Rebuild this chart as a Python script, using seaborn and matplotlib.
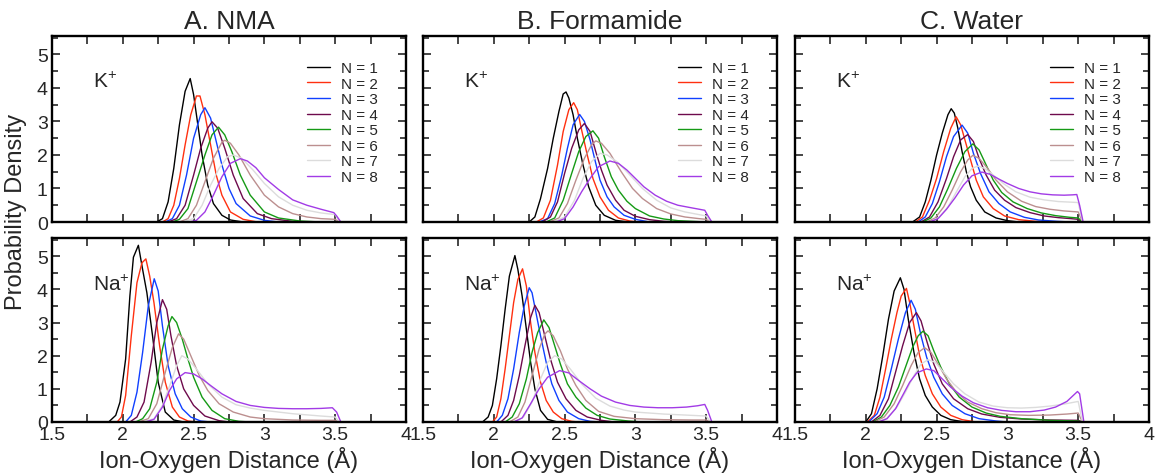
import matplotlib
matplotlib.use("Agg")
import matplotlib.pyplot as plt
import pandas as pd
import seaborn as sns
from matplotlib.ticker import MultipleLocator, FuncFormatter
from matplotlib.lines import Line2D

# ---- data: each curve is a list of (distance, density) points ----
titles = ["A. NMA", "B. Formamide", "C. Water"]
ion_labels = [r"K$^{\mathregular{+}}$", r"Na$^{\mathregular{+}}$"]
n_labels = [f"N = {i}" for i in range(1, 9)]
colors = ["#000000", "#ff3010", "#1040ff", "#6e0a4c",
          "#159a15", "#bc8f8f", "#dcdcdc", "#a23be6"]

nma_k = [
    [(2.24, 0), (2.28, 0.1), (2.32, 0.6), (2.36, 1.6), (2.40, 2.9), (2.44, 3.9), (2.476, 4.28),
     (2.50, 3.8), (2.53, 2.9), (2.56, 2.0), (2.60, 1.1), (2.64, 0.55), (2.70, 0.2), (2.76, 0.06), (2.85, 0)],
    [(2.28, 0), (2.32, 0.1), (2.36, 0.5), (2.40, 1.3), (2.44, 2.3), (2.48, 3.2), (2.52, 3.76), (2.545, 3.76),
     (2.58, 3.2), (2.62, 2.3), (2.66, 1.4), (2.70, 0.8), (2.76, 0.3), (2.85, 0.08), (2.95, 0)],
    [(2.30, 0), (2.35, 0.1), (2.40, 0.5), (2.45, 1.4), (2.50, 2.5), (2.55, 3.2), (2.58, 3.41), (2.62, 3.1),
     (2.66, 2.4), (2.70, 1.7), (2.75, 1.0), (2.80, 0.55), (2.90, 0.18), (3.0, 0.05), (3.1, 0)],
    [(2.32, 0), (2.38, 0.1), (2.44, 0.5), (2.50, 1.4), (2.55, 2.2), (2.60, 2.8), (2.63, 2.99), (2.67, 2.8),
     (2.72, 2.2), (2.78, 1.4), (2.85, 0.7), (2.95, 0.25), (3.05, 0.1), (3.2, 0.02), (3.3, 0)],
    [(2.35, 0), (2.40, 0.08), (2.46, 0.4), (2.52, 1.2), (2.58, 2.0), (2.63, 2.6), (2.676, 2.83), (2.72, 2.6),
     (2.77, 2.1), (2.83, 1.4), (2.90, 0.8), (3.0, 0.3), (3.1, 0.12), (3.25, 0.03), (3.4, 0)],
    [(2.40, 0), (2.46, 0.1), (2.52, 0.5), (2.58, 1.2), (2.64, 1.9), (2.70, 2.38), (2.72, 2.44), (2.76, 2.35),
     (2.82, 2.0), (2.90, 1.4), (3.0, 0.8), (3.1, 0.45), (3.2, 0.25), (3.3, 0.15), (3.4, 0.1), (3.5, 0.08), (3.53, 0)],
    [(2.42, 0), (2.50, 0.1), (2.56, 0.5), (2.62, 1.1), (2.68, 1.6), (2.74, 1.95), (2.78, 2.0), (2.84, 1.9),
     (2.92, 1.55), (3.0, 1.15), (3.1, 0.75), (3.2, 0.5), (3.3, 0.35), (3.4, 0.27), (3.5, 0.22), (3.53, 0)],
    [(2.47, 0), (2.52, 0.05), (2.58, 0.3), (2.64, 0.8), (2.70, 1.35), (2.76, 1.75), (2.83, 1.89), (2.88, 1.82),
     (2.94, 1.62), (3.0, 1.32), (3.1, 0.97), (3.2, 0.66), (3.3, 0.5), (3.4, 0.38), (3.49, 0.28), (3.51, 0.18), (3.54, 0)],
]

nma_na = [
    [(1.90, 0), (1.95, 0.2), (1.98, 0.6), (2.02, 1.9), (2.05, 3.8), (2.075, 4.97), (2.11, 5.33), (2.14, 4.6),
     (2.17, 3.9), (2.21, 2.6), (2.25, 1.2), (2.30, 0.3), (2.36, 0.06), (2.43, 0)],
    [(1.96, 0), (1.99, 0.15), (2.02, 0.8), (2.06, 2.6), (2.10, 4.2), (2.135, 4.8), (2.163, 4.92), (2.19, 4.4),
     (2.22, 3.6), (2.26, 2.3), (2.30, 1.2), (2.35, 0.45), (2.40, 0.15), (2.46, 0.03), (2.52, 0)],
    [(2.02, 0), (2.06, 0.2), (2.10, 0.9), (2.14, 2.1), (2.18, 3.5), (2.222, 4.32), (2.25, 3.95), (2.28, 2.9),
     (2.32, 1.7), (2.37, 0.85), (2.42, 0.4), (2.48, 0.15), (2.55, 0.03), (2.62, 0)],
    [(2.05, 0), (2.10, 0.15), (2.15, 0.6), (2.20, 1.8), (2.24, 3.0), (2.28, 3.69), (2.31, 3.4), (2.34, 2.6),
     (2.38, 1.7), (2.43, 1.0), (2.50, 0.5), (2.58, 0.18), (2.68, 0.04), (2.75, 0)],
    [(2.09, 0), (2.14, 0.1), (2.19, 0.4), (2.24, 1.2), (2.28, 2.2), (2.32, 2.9), (2.347, 3.18), (2.38, 3.0),
     (2.42, 2.5), (2.46, 1.9), (2.50, 1.35), (2.56, 0.75), (2.63, 0.35), (2.72, 0.1), (2.82, 0.02), (2.9, 0)],
    [(2.11, 0), (2.18, 0.1), (2.24, 0.55), (2.30, 1.5), (2.35, 2.25), (2.394, 2.66), (2.43, 2.5), (2.48, 2.0),
     (2.54, 1.4), (2.60, 0.95), (2.68, 0.55), (2.78, 0.3), (2.9, 0.15), (3.0, 0.1), (3.2, 0.06), (3.4, 0.05),
     (3.5, 0.05), (3.53, 0)],
    [(2.14, 0), (2.22, 0.1), (2.28, 0.5), (2.34, 1.2), (2.38, 1.7), (2.417, 2.0), (2.46, 1.9), (2.52, 1.6),
     (2.60, 1.15), (2.70, 0.75), (2.80, 0.52), (2.9, 0.42), (3.0, 0.35), (3.2, 0.25), (3.4, 0.18), (3.5, 0.15), (3.53, 0)],
    [(2.16, 0), (2.22, 0.08), (2.28, 0.45), (2.33, 0.95), (2.38, 1.3), (2.44, 1.49), (2.50, 1.45), (2.56, 1.3),
     (2.62, 1.1), (2.70, 0.85), (2.80, 0.62), (2.9, 0.5), (3.0, 0.44), (3.1, 0.41), (3.2, 0.4), (3.3, 0.4),
     (3.4, 0.41), (3.48, 0.43), (3.51, 0.3), (3.54, 0)],
]

form_k = [
    [(2.25, 0), (2.29, 0.15), (2.33, 0.7), (2.38, 1.6), (2.42, 2.5), (2.46, 3.3), (2.49, 3.82), (2.51, 3.88),
     (2.53, 3.7), (2.56, 3.2), (2.59, 2.5), (2.63, 1.7), (2.67, 1.05), (2.72, 0.5), (2.78, 0.2), (2.86, 0.05), (2.95, 0)],
    [(2.30, 0), (2.35, 0.12), (2.40, 0.65), (2.45, 1.7), (2.49, 2.7), (2.53, 3.35), (2.564, 3.56), (2.59, 3.35),
     (2.62, 2.75), (2.66, 2.0), (2.70, 1.3), (2.75, 0.75), (2.81, 0.35), (2.88, 0.12), (2.96, 0.03), (3.02, 0)],
    [(2.32, 0), (2.38, 0.1), (2.43, 0.55), (2.48, 1.4), (2.52, 2.2), (2.56, 2.9), (2.606, 3.21), (2.64, 3.0),
     (2.68, 2.45), (2.72, 1.75), (2.75, 1.25), (2.80, 0.75), (2.85, 0.45), (2.92, 0.2), (3.0, 0.08), (3.1, 0)],
    [(2.34, 0), (2.40, 0.15), (2.45, 0.6), (2.50, 1.45), (2.55, 2.2), (2.60, 2.75), (2.64, 2.94), (2.68, 2.7),
     (2.72, 2.1), (2.76, 1.55), (2.80, 1.1), (2.86, 0.65), (2.92, 0.35), (3.0, 0.17), (3.1, 0.07), (3.2, 0.02), (3.3, 0)],
    [(2.37, 0), (2.43, 0.12), (2.49, 0.65), (2.55, 1.45), (2.60, 2.1), (2.65, 2.55), (2.70, 2.72), (2.74, 2.5),
     (2.78, 1.95), (2.83, 1.35), (2.88, 0.95), (2.94, 0.62), (3.0, 0.4), (3.1, 0.18), (3.2, 0.09), (3.3, 0.04),
     (3.45, 0.01), (3.5, 0)],
    [(2.39, 0), (2.46, 0.12), (2.52, 0.55), (2.58, 1.25), (2.64, 1.9), (2.69, 2.3), (2.72, 2.42), (2.76, 2.35),
     (2.82, 2.05), (2.90, 1.5), (2.98, 1.0), (3.05, 0.7), (3.15, 0.4), (3.25, 0.24), (3.35, 0.15), (3.45, 0.1),
     (3.5, 0.08), (3.53, 0)],
    [(2.42, 0), (2.50, 0.15), (2.57, 0.65), (2.63, 1.3), (2.69, 1.8), (2.75, 2.05), (2.80, 2.0), (2.87, 1.8),
     (2.95, 1.45), (3.05, 1.0), (3.15, 0.65), (3.25, 0.42), (3.35, 0.3), (3.45, 0.22), (3.5, 0.18), (3.53, 0)],
    [(2.44, 0), (2.50, 0.1), (2.56, 0.45), (2.62, 0.9), (2.68, 1.3), (2.74, 1.65), (2.82, 1.82), (2.88, 1.75),
     (2.94, 1.55), (3.0, 1.3), (3.06, 1.05), (3.14, 0.8), (3.22, 0.62), (3.30, 0.5), (3.40, 0.42), (3.49, 0.35),
     (3.51, 0.2), (3.54, 0)],
]

form_na = [
    [(1.92, 0), (1.96, 0.15), (1.99, 0.5), (2.02, 1.3), (2.05, 2.3), (2.08, 3.4), (2.11, 4.4), (2.149, 5.02),
     (2.17, 4.6), (2.20, 3.8), (2.23, 2.8), (2.26, 1.8), (2.29, 1.0), (2.33, 0.35), (2.38, 0.08), (2.45, 0)],
    [(1.99, 0), (2.02, 0.15), (2.05, 0.7), (2.08, 1.6), (2.11, 2.6), (2.14, 3.6), (2.17, 4.3), (2.203, 4.62),
     (2.23, 4.1), (2.26, 3.0), (2.29, 2.1), (2.33, 1.2), (2.37, 0.65), (2.42, 0.3), (2.48, 0.1), (2.55, 0.02), (2.6, 0)],
    [(2.02, 0), (2.06, 0.2), (2.10, 0.7), (2.14, 1.6), (2.18, 2.7), (2.215, 3.5), (2.25, 4.05), (2.27, 3.9),
     (2.30, 3.25), (2.33, 2.6), (2.37, 1.8), (2.41, 1.15), (2.46, 0.65), (2.52, 0.3), (2.60, 0.1), (2.68, 0.02), (2.75, 0)],
    [(2.05, 0), (2.10, 0.2), (2.14, 0.65), (2.18, 1.4), (2.22, 2.3), (2.26, 3.15), (2.29, 3.52), (2.32, 3.3),
     (2.36, 2.6), (2.40, 1.9), (2.45, 1.2), (2.51, 0.7), (2.58, 0.35), (2.66, 0.15), (2.76, 0.05), (2.85, 0)],
    [(2.08, 0), (2.13, 0.15), (2.18, 0.55), (2.23, 1.3), (2.27, 2.1), (2.31, 2.7), (2.353, 3.08), (2.39, 2.85),
     (2.43, 2.3), (2.47, 1.75), (2.52, 1.15), (2.58, 0.75), (2.65, 0.42), (2.73, 0.2), (2.82, 0.09), (2.95, 0.03), (3.05, 0)],
    [(2.11, 0), (2.17, 0.15), (2.22, 0.6), (2.27, 1.4), (2.32, 2.2), (2.36, 2.65), (2.383, 2.75), (2.42, 2.6),
     (2.47, 2.15), (2.52, 1.6), (2.58, 1.1), (2.65, 0.65), (2.74, 0.32), (2.85, 0.17), (3.0, 0.1), (3.2, 0.07),
     (3.4, 0.06), (3.5, 0.06), (3.53, 0)],
    [(2.14, 0), (2.21, 0.15), (2.27, 0.6), (2.33, 1.3), (2.38, 1.8), (2.43, 2.0), (2.48, 1.9), (2.54, 1.6),
     (2.62, 1.15), (2.72, 0.72), (2.82, 0.48), (2.92, 0.36), (3.0, 0.3), (3.2, 0.24), (3.4, 0.2), (3.5, 0.18), (3.53, 0)],
    [(2.14, 0), (2.20, 0.12), (2.26, 0.55), (2.32, 1.0), (2.38, 1.35), (2.465, 1.55), (2.53, 1.48), (2.60, 1.25),
     (2.68, 1.0), (2.76, 0.78), (2.86, 0.6), (2.96, 0.5), (3.06, 0.45), (3.16, 0.43), (3.26, 0.43), (3.36, 0.45),
     (3.44, 0.49), (3.49, 0.53), (3.51, 0.35), (3.54, 0)],
]

water_k = [
    [(2.33, 0), (2.38, 0.15), (2.42, 0.6), (2.46, 1.25), (2.50, 2.0), (2.54, 2.65), (2.58, 3.2), (2.603, 3.38),
     (2.625, 3.25), (2.65, 2.8), (2.68, 2.1), (2.71, 1.5), (2.74, 1.05), (2.78, 0.65), (2.84, 0.3), (2.92, 0.12),
     (3.0, 0.04), (3.08, 0)],
    [(2.35, 0), (2.40, 0.15), (2.45, 0.65), (2.50, 1.3), (2.55, 2.1), (2.60, 2.8), (2.638, 3.14), (2.67, 2.9),
     (2.70, 2.45), (2.74, 1.85), (2.78, 1.25), (2.83, 0.75), (2.90, 0.4), (2.98, 0.18), (3.08, 0.07), (3.2, 0.02), (3.28, 0)],
    [(2.37, 0), (2.42, 0.15), (2.47, 0.55), (2.52, 1.2), (2.57, 1.95), (2.62, 2.55), (2.68, 2.89), (2.72, 2.65),
     (2.76, 2.05), (2.81, 1.45), (2.87, 0.9), (2.94, 0.55), (3.02, 0.3), (3.12, 0.14), (3.22, 0.06), (3.35, 0.02), (3.45, 0)],
    [(2.39, 0), (2.45, 0.15), (2.51, 0.6), (2.57, 1.3), (2.62, 1.95), (2.67, 2.45), (2.72, 2.61), (2.76, 2.4),
     (2.80, 1.9), (2.85, 1.4), (2.91, 0.95), (2.98, 0.65), (3.06, 0.43), (3.16, 0.28), (3.26, 0.18), (3.36, 0.13),
     (3.45, 0.1), (3.5, 0.08), (3.53, 0)],
    [(2.40, 0), (2.46, 0.12), (2.52, 0.45), (2.58, 1.0), (2.64, 1.6), (2.70, 2.1), (2.756, 2.33), (2.80, 2.15),
     (2.85, 1.7), (2.90, 1.25), (2.96, 0.88), (3.04, 0.6), (3.14, 0.4), (3.24, 0.27), (3.34, 0.19), (3.44, 0.14),
     (3.5, 0.12), (3.53, 0)],
    [(2.43, 0), (2.49, 0.12), (2.55, 0.45), (2.61, 0.95), (2.67, 1.5), (2.72, 1.85), (2.756, 1.99), (2.80, 1.9),
     (2.86, 1.6), (2.92, 1.25), (3.0, 0.9), (3.1, 0.62), (3.2, 0.46), (3.3, 0.38), (3.4, 0.33), (3.5, 0.3), (3.53, 0)],
    [(2.45, 0), (2.52, 0.15), (2.58, 0.45), (2.64, 0.9), (2.70, 1.35), (2.75, 1.6), (2.79, 1.67), (2.84, 1.6),
     (2.90, 1.4), (2.98, 1.12), (3.06, 0.9), (3.16, 0.74), (3.26, 0.66), (3.36, 0.61), (3.46, 0.59), (3.5, 0.58), (3.53, 0)],
    [(2.45, 0), (2.51, 0.1), (2.57, 0.38), (2.63, 0.72), (2.69, 1.1), (2.75, 1.38), (2.82, 1.49), (2.88, 1.42),
     (2.94, 1.28), (3.0, 1.15), (3.08, 1.0), (3.16, 0.9), (3.24, 0.84), (3.32, 0.81), (3.40, 0.8), (3.46, 0.81),
     (3.49, 0.82), (3.51, 0.5), (3.535, 0)],
]

water_na = [
    [(2.0, 0), (2.04, 0.25), (2.08, 1.0), (2.12, 2.0), (2.16, 3.1), (2.20, 3.95), (2.244, 4.35), (2.27, 4.0),
     (2.30, 3.1), (2.34, 2.1), (2.38, 1.3), (2.42, 0.8), (2.47, 0.45), (2.53, 0.2), (2.60, 0.07), (2.7, 0)],
    [(2.01, 0), (2.06, 0.2), (2.10, 0.75), (2.14, 1.6), (2.18, 2.5), (2.22, 3.3), (2.25, 3.8), (2.287, 4.03),
     (2.31, 3.6), (2.34, 2.9), (2.38, 2.0), (2.42, 1.4), (2.47, 0.85), (2.53, 0.45), (2.60, 0.2), (2.68, 0.07), (2.78, 0)],
    [(2.02, 0), (2.08, 0.25), (2.13, 0.75), (2.18, 1.6), (2.23, 2.5), (2.28, 3.3), (2.32, 3.67), (2.35, 3.4),
     (2.39, 2.6), (2.43, 1.95), (2.48, 1.35), (2.54, 0.85), (2.61, 0.5), (2.70, 0.25), (2.80, 0.1), (2.92, 0.03), (3.0, 0)],
    [(2.04, 0), (2.10, 0.2), (2.16, 0.7), (2.21, 1.5), (2.26, 2.3), (2.31, 3.0), (2.357, 3.3), (2.39, 3.05),
     (2.43, 2.45), (2.48, 1.75), (2.54, 1.15), (2.62, 0.7), (2.72, 0.4), (2.82, 0.24), (2.95, 0.14), (3.1, 0.09),
     (3.3, 0.06), (3.5, 0.05), (3.53, 0)],
    [(2.05, 0), (2.11, 0.15), (2.17, 0.5), (2.23, 1.05), (2.28, 1.65), (2.33, 2.25), (2.37, 2.6), (2.404, 2.74),
     (2.44, 2.6), (2.48, 2.15), (2.53, 1.65), (2.59, 1.15), (2.66, 0.75), (2.75, 0.45), (2.85, 0.27), (2.95, 0.17),
     (3.1, 0.1), (3.3, 0.05), (3.5, 0.03), (3.53, 0)],
    [(2.06, 0), (2.13, 0.15), (2.20, 0.55), (2.26, 1.1), (2.32, 1.7), (2.37, 2.1), (2.416, 2.24), (2.46, 2.1),
     (2.51, 1.75), (2.57, 1.3), (2.64, 0.9), (2.72, 0.6), (2.82, 0.4), (2.92, 0.28), (3.02, 0.22), (3.15, 0.2),
     (3.3, 0.21), (3.42, 0.24), (3.5, 0.27), (3.53, 0)],
    [(2.08, 0), (2.15, 0.12), (2.22, 0.45), (2.28, 0.9), (2.34, 1.4), (2.39, 1.75), (2.44, 1.88), (2.49, 1.8),
     (2.55, 1.5), (2.62, 1.15), (2.70, 0.85), (2.80, 0.6), (2.90, 0.48), (3.0, 0.43), (3.1, 0.42), (3.2, 0.44),
     (3.3, 0.48), (3.4, 0.54), (3.5, 0.62), (3.53, 0)],
    [(2.09, 0), (2.15, 0.1), (2.21, 0.4), (2.26, 0.8), (2.31, 1.2), (2.36, 1.48), (2.427, 1.6), (2.48, 1.55),
     (2.54, 1.3), (2.60, 1.05), (2.68, 0.78), (2.76, 0.58), (2.86, 0.43), (2.96, 0.35), (3.06, 0.31), (3.16, 0.31),
     (3.26, 0.36), (3.34, 0.45), (3.42, 0.62), (3.47, 0.82), (3.495, 0.92), (3.51, 0.85), (3.54, 0)],
]

panels = [[nma_k, form_k, water_k], [nma_na, form_na, water_na]]

# ---- styling ----
sns.set_theme(style="ticks")
plt.rcParams["font.family"] = ["Liberation Sans", "DejaVu Sans"]
plt.rcParams["mathtext.fontset"] = "custom"
plt.rcParams["mathtext.rm"] = "Liberation Sans"
plt.rcParams["mathtext.it"] = "Liberation Sans:italic"

W, H = 1156, 477
fig = plt.figure(figsize=(W / 100, H / 100), dpi=100)

col_left = [52, 423, 795]
col_w = 354
row_top = [37, 239]
row_h = [186, 184]

for r in range(2):
    for c in range(3):
        left = col_left[c] / W
        bottom = 1 - (row_top[r] + row_h[r]) / H
        ax = fig.add_axes([left, bottom, col_w / W, row_h[r] / H])

        rows = []
        for n, curve in enumerate(panels[r][c]):
            for x, y in curve:
                rows.append({"x": x, "y": y, "N": n_labels[n]})
        df = pd.DataFrame(rows)
        sns.lineplot(data=df, x="x", y="y", hue="N", hue_order=n_labels,
                     palette=colors, estimator=None, sort=False,
                     linewidth=1.0, legend=False, ax=ax)

        ax.set_xlim(1.5, 4.0)
        ax.set_ylim(0, 5.55)
        ax.xaxis.set_major_locator(MultipleLocator(0.5))
        ax.xaxis.set_minor_locator(MultipleLocator(0.25))
        ax.yaxis.set_major_locator(MultipleLocator(1))
        ax.yaxis.set_minor_locator(MultipleLocator(0.5))
        ax.tick_params(which="both", direction="in", top=True, right=True,
                       width=1.2, labelsize=14, pad=3)
        ax.tick_params(which="major", length=6)
        ax.tick_params(which="minor", length=6, axis="x")
        ax.tick_params(which="minor", length=4, axis="y")
        ax.xaxis.set_major_formatter(FuncFormatter(lambda v, p: f"{v:g}"))
        for sp in ax.spines.values():
            sp.set_linewidth(1.7)
            sp.set_color("black")

        ax.set_xlabel("")
        ax.set_ylabel("")
        if c > 0:
            ax.tick_params(labelleft=False)
        if r == 0:
            ax.tick_params(labelbottom=False)
            ax.set_title(titles[c], fontsize=19, pad=6)
            handles = [Line2D([], [], color=col, lw=1.0) for col in colors]
            ax.legend(handles, n_labels, loc="upper left", bbox_to_anchor=(0.70, 0.905),
                      frameon=False, fontsize=11, borderpad=0, labelspacing=0.1,
                      handlelength=1.45, handletextpad=0.72)
        else:
            ax.set_xlabel("Ion-Oxygen Distance (Å)", fontsize=17, labelpad=2)

        ax.text(1.79, 4.2 if r == 0 else 4.15, ion_labels[r], fontsize=15,
                ha="left", va="center")

fig.text(16 / W, 1 - 212 / H, "Probability Density", rotation=90, fontsize=17,
         ha="center", va="center")

fig.savefig("out.png", dpi=100)
